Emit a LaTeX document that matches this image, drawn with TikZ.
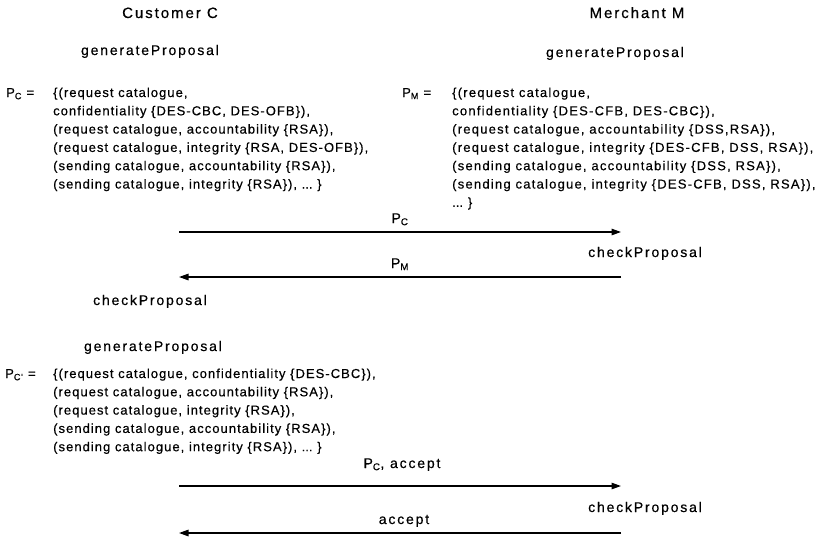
\documentclass[tikz,border=0pt]{standalone}
\usepackage{fontspec}
\setmainfont{Liberation Sans}
\newfontfamily\headfam[LetterSpace=13,FakeBold=0.5]{Liberation Sans}
\newfontfamily\setfam[LetterSpace=8,FakeBold=0.4]{Liberation Sans}
\newfontfamily\widesetfam[LetterSpace=9.5,FakeBold=0.4]{Liberation Sans}
\usetikzlibrary{arrows.meta}
\newcommand\etcdots{.\kern0pt.\kern0pt.}

\tikzset{
  party/.style={font=\headfam\fontsize{15}{17}\selectfont, anchor=base, inner sep=0pt},
  proc/.style={font=\headfam\fontsize{14}{16}\selectfont, inner sep=0pt},
  setline/.style={font=\setfam\fontsize{13}{15}\selectfont, anchor=base west, inner sep=0pt},
  widesetline/.style={setline, font=\widesetfam\fontsize{13}{15}\selectfont},
  setname/.style={font=\setfam\fontsize{13}{15}\selectfont, anchor=base west, inner sep=0pt},
  msglabel/.style={font=\headfam\fontsize{14}{16}\selectfont, anchor=base, inner sep=0pt},
  msg/.style={line width=1.3pt, -{Triangle[length=9.5pt,width=6.5pt]}}
}

\begin{document}
\begin{tikzpicture}[x=1pt,y=-1pt]
\useasboundingbox (0,0) rectangle (825,542);

% the two parties
\node[party] (cust) at (170,18) {Customer C};
\node[party] (merch) at (637,18) {Merchant M};

% first proposals
\node[proc, anchor=base] (genC) at (150,55) {generateProposal};
\node[proc, anchor=base] (genM) at (615,57) {generateProposal};

\node[setname] (pcname) at (6,97) {P\textsubscript{C} =};
\foreach \t [count=\i from 0] in {%
  {\{(request catalogue,},
  {confidentiality \{DES-CBC, DES-OFB\}),},
  {(request catalogue, accountability \{RSA\}),},
  {(request catalogue, integrity \{RSA, DES-OFB\}),},
  {(sending catalogue, accountability \{RSA\}),},
  {(sending catalogue, integrity \{RSA\}), \etcdots\ \}}}
  \node[setline] (pc\i) at (53,97+18.3*\i) {\t};

\node[setname] (pmname) at (402,97) {P\textsubscript{M} =};
\foreach \t [count=\i from 0] in {%
  {\{(request catalogue,},
  {confidentiality \{DES-CFB, DES-CBC\}),},
  {(request catalogue, accountability \{DSS,RSA\}),},
  {(request catalogue, integrity \{DES-CFB, DSS, RSA\}),},
  {(sending catalogue, accountability \{DSS, RSA\}),},
  {(sending catalogue, integrity \{DES-CFB, DSS, RSA\}),},
  {\etcdots\ \}}}
  \node[widesetline] (pm\i) at (452,97+18.3*\i) {\t};

% exchange of the first proposals
\coordinate (c1) at (179,232);
\coordinate (m1) at (621,232);
\draw[msg] (c1) -- (m1);
\node[msglabel] (lpc) at (400,223) {P\textsubscript{C}};
\node[proc, anchor=base west] (chkM1) at (588,257) {checkProposal};

\coordinate (m2) at (621,277);
\coordinate (c2) at (179,277);
\draw[msg] (m2) -- (c2);
\node[msglabel] (lpm) at (400,268) {P\textsubscript{M}};
\node[proc, anchor=base] (chkC) at (150,305) {checkProposal};

% revised proposal of the customer
\node[proc, anchor=base] (genC2) at (153,351) {generateProposal};
\node[setname] (pcpname) at (5,378) {P\textsubscript{C'} =};
\foreach \t [count=\i from 0] in {%
  {\{(request catalogue, confidentiality \{DES-CBC\}),},
  {(request catalogue, accountability \{RSA\}),},
  {(request catalogue, integrity \{RSA\}),},
  {(sending catalogue, accountability \{RSA\}),},
  {(sending catalogue, integrity \{RSA\}), \etcdots\ \}}}
  \node[setline] (pcp\i) at (53,378+18.3*\i) {\t};

\coordinate (c3) at (179,486);
\coordinate (m3) at (621,486);
\draw[msg] (c3) -- (m3);
\node[msglabel] (lacc1) at (402,468) {P\textsubscript{C}, accept};
\node[proc, anchor=base west] (chkM2) at (588,512) {checkProposal};

\coordinate (m4) at (621,533);
\coordinate (c4) at (179,533);
\draw[msg] (m4) -- (c4);
\node[msglabel] (lacc2) at (404,524) {accept};
\end{tikzpicture}
\end{document}
